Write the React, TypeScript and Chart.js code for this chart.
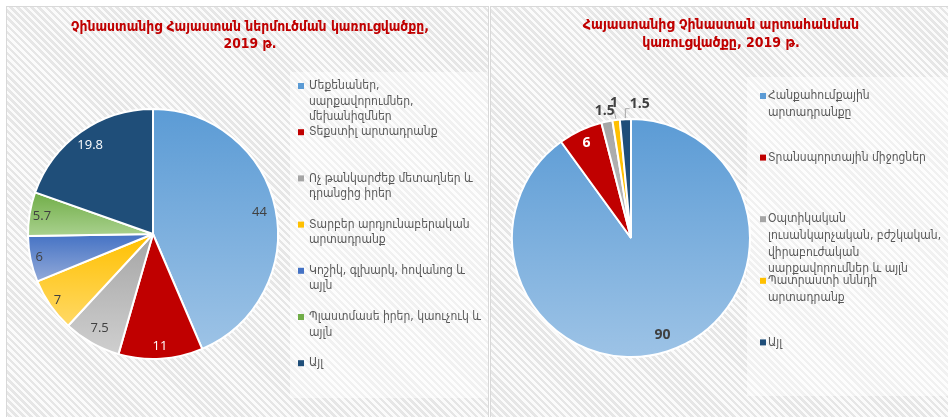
import React, { useEffect, useRef } from "react";
import { Chart, registerables } from "chart.js";
Chart.register(...registerables);

// ---------- data ----------
const importTitle = ["Չինաստանից Հայաստան ներմուծման կառուցվածքը,", "2019 թ."];
const importCategories = [
  ["Մեքենաներ,", "սարքավորումներ,", "մեխանիզմներ"],
  ["Տեքստիլ արտադրանք"],
  ["Ոչ թանկարժեք մետաղներ և", "դրանցից իրեր"],
  ["Տարբեր արդյունաբերական", "արտադրանք"],
  ["Կոշիկ, գլխարկ, հովանոց և", "այլն"],
  ["Պլաստմասե իրեր, կաուչուկ և", "այլն"],
  ["Այլ"],
];
const importValues = [44, 11, 7.5, 7, 6, 5.7, 19.8];

const exportTitle = ["Հայաստանից Չինաստան արտահանման", "կառուցվածքը, 2019 թ."];
const exportCategories = [
  ["Հանքահումքային", "արտադրանքը"],
  ["Տրանսպորտային միջոցներ"],
  ["Օպտիկական", "լուսանկարչական, բժշկական,", "վիրաբուժական", "սարքավորումներ և այլն"],
  ["Պատրաստի սննդի", "արտադրանք"],
  ["Այլ"],
];
const exportValues = [90, 6, 1.5, 1, 1.5];

// ---------- styles ----------
const importColors = [
  ["#5B9BD5", "#9DC3E6"],
  ["#C00000", "#C00000"],
  ["#A5A5A5", "#CFCFCF"],
  ["#FFC000", "#FFD966"],
  ["#4472C4", "#93AAD9"],
  ["#70AD47", "#A9D18E"],
  ["#1F4E79", "#1F4E79"],
];
const exportColors = [
  ["#5B9BD5", "#9DC3E6"],
  ["#C00000", "#C00000"],
  ["#A5A5A5", "#BFBFBF"],
  ["#FFC000", "#FFC000"],
  ["#1F4E79", "#1F4E79"],
];
const importLabelStyle = [
  { f: 0.87, color: "#404040" },
  { f: 0.9, color: "#FFFFFF" },
  { f: 0.87, color: "#404040" },
  { f: 0.93, color: "#404040" },
  { f: 0.93, color: "#404040" },
  { f: 0.9, color: "#404040" },
  { f: 0.87, color: "#FFFFFF" },
];
const exportLabelStyle = [
  { f: 0.86, color: "#404040" },
  { f: 0.88, color: "#FFFFFF" },
  { f: 1.09, color: "#404040" },
  { f: 1.14, color: "#404040", leader: true },
  { f: 1.13, color: "#404040", leader: true, dx: 15 },
];

type PanelCfg = {
  title: string[];
  titleX: number;
  titleY: number[];
  titleFont: number;
  categories: string[][];
  values: number[];
  colors: string[][];
  labelStyle: any[];
  labelFont: string;
  legendBox: number[];
  legendSquareX: number;
  legendTextX: number;
  legendY: number;
  legendStep: number;
  legendLine: number;
  padding: { left: number; right: number; top: number; bottom: number };
};

const ARM_FONT = '"DejaVu Sans Condensed", "DejaVu Sans", sans-serif';

function arcGradient(c: any, colors: string[][]) {
  const i = c.dataIndex;
  if (i === undefined) return "#999";
  const chart = c.chart;
  const area = chart.chartArea;
  const pair = colors[i];
  if (!area) return pair[0];
  const data = c.dataset.data as number[];
  const total = data.reduce((a, b) => a + b, 0);
  let before = 0;
  for (let k = 0; k < i; k++) before += data[k];
  const start = -Math.PI / 2 + (before / total) * Math.PI * 2;
  const end = start + (data[i] / total) * Math.PI * 2;
  const cy = (area.top + area.bottom) / 2;
  const r = Math.min(area.right - area.left, area.bottom - area.top) / 2;
  let ymin = cy, ymax = cy;
  const n = 40;
  for (let s = 0; s <= n; s++) {
    const a = start + ((end - start) * s) / n;
    const y = cy + r * Math.sin(a);
    ymin = Math.min(ymin, y);
    ymax = Math.max(ymax, y);
  }
  if (ymax - ymin < 1) return pair[0];
  const g = chart.ctx.createLinearGradient(0, ymin, 0, ymax);
  g.addColorStop(0, pair[0]);
  g.addColorStop(1, pair[1]);
  return g;
}

function makePlugins(cfg: PanelCfg) {
  return [
    {
      id: "legendShade",
      beforeDraw(chart: any) {
        const ctx = chart.ctx as CanvasRenderingContext2D;
        const [x, y, w, h] = cfg.legendBox;
        ctx.save();
        ctx.fillStyle = "rgba(255,255,255,0.45)";
        ctx.fillRect(x, y, w, h);
        ctx.restore();
      },
    },
    {
      id: "panelText",
      afterDraw(chart: any) {
        const ctx = chart.ctx as CanvasRenderingContext2D;
        ctx.save();
        // title
        ctx.fillStyle = "#C00000";
        ctx.font = "bold " + cfg.titleFont + "px " + ARM_FONT;
        ctx.textAlign = "center";
        ctx.textBaseline = "middle";
        cfg.title.forEach((t, k) => ctx.fillText(t, cfg.titleX, cfg.titleY[k]));
        // legend
        ctx.textAlign = "left";
        ctx.font = "12px " + ARM_FONT;
        cfg.categories.forEach((lines, i) => {
          const y0 = cfg.legendY + i * cfg.legendStep;
          ctx.fillStyle = cfg.colors[i][0];
          ctx.fillRect(cfg.legendSquareX, y0 - 3, 6, 6);
          ctx.fillStyle = "#595959";
          lines.forEach((ln, j) => ctx.fillText(ln, cfg.legendTextX, y0 + j * cfg.legendLine));
        });
        ctx.restore();
      },
    },
    {
      id: "sliceLabels",
      afterDatasetsDraw(chart: any) {
        const ctx = chart.ctx as CanvasRenderingContext2D;
        const meta = chart.getDatasetMeta(0);
        const data = chart.data.datasets[0].data as number[];
        ctx.save();
        ctx.font = cfg.labelFont;
        ctx.textAlign = "center";
        ctx.textBaseline = "middle";
        meta.data.forEach((arc: any, i: number) => {
          const p = arc.getProps(["x", "y", "startAngle", "endAngle", "outerRadius"], true);
          const st = cfg.labelStyle[i];
          const mid = (p.startAngle + p.endAngle) / 2;
          const r = p.outerRadius * st.f;
          const x = p.x + Math.cos(mid) * r + (st.dx || 0);
          const y = p.y + Math.sin(mid) * r;
          if (st.leader) {
            ctx.strokeStyle = "#A6A6A6";
            ctx.lineWidth = 1;
            const ex = p.x + Math.cos(mid) * (p.outerRadius + 1);
            const ey = p.y + Math.sin(mid) * (p.outerRadius + 1);
            ctx.beginPath();
            ctx.moveTo(ex, ey);
            if (st.dx) {
              ctx.lineTo(ex, y + 5);
              ctx.lineTo(x - 10, y + 5);
            } else {
              ctx.lineTo(x, y + 7);
            }
            ctx.stroke();
          }
          ctx.fillStyle = st.color;
          ctx.fillText(String(data[i]), x, y);
        });
        ctx.restore();
      },
    },
  ];
}

function Panel({ cfg, left, width }: { cfg: PanelCfg; left: number; width: number }) {
  const ref = useRef<HTMLCanvasElement | null>(null);
  useEffect(() => {
    if (!ref.current) return;
    const chart = new Chart(ref.current, {
      type: "pie",
      data: {
        labels: cfg.categories,
        datasets: [
          {
            data: cfg.values,
            backgroundColor: (c: any) => arcGradient(c, cfg.colors),
            borderColor: "#FFFFFF",
            borderWidth: 2,
          },
        ],
      },
      options: {
        responsive: false,
        animation: false,
        layout: { padding: cfg.padding },
        plugins: { legend: { display: false }, tooltip: { enabled: false }, title: { display: false } },
      },
      plugins: makePlugins(cfg),
    } as any);
    return () => chart.destroy();
  }, []);
  return (
    <div
      style={{
        position: "absolute",
        left: left - 1,
        top: 6,
        width: width,
        height: 412,
        border: "1px solid #D9D9D9",
        background:
          "repeating-linear-gradient(45deg, #FBFBFB 0px, #FBFBFB 2.5px, #E6E6E6 2.5px, #E6E6E6 5px)",
        overflow: "hidden",
      }}
    >
      <canvas ref={ref} width={width} height={410} style={{ display: "block" }} />
    </div>
  );
}

const importCfg: PanelCfg = {
  title: importTitle,
  titleX: 243,
  titleY: [20, 37],
  titleFont: 13.8,
  categories: importCategories,
  values: importValues,
  colors: importColors,
  labelStyle: importLabelStyle,
  labelFont: '13px "Open Sans", sans-serif',
  legendBox: [283, 65, 198, 326],
  legendSquareX: 291,
  legendTextX: 302,
  legendY: 79,
  legendStep: 46.2,
  legendLine: 15.5,
  padding: { left: 20, right: 209, top: 101, bottom: 57 },
};

const exportCfg: PanelCfg = {
  title: exportTitle,
  titleX: 230,
  titleY: [18, 36],
  titleFont: 14,
  categories: exportCategories,
  values: exportValues,
  colors: exportColors,
  labelStyle: exportLabelStyle,
  labelFont: 'bold 14px "Open Sans", sans-serif',
  legendBox: [256, 70, 201, 319],
  legendSquareX: 269,
  legendTextX: 277,
  legendY: 89,
  legendStep: 61.6,
  legendLine: 16.7,
  padding: { left: 20, right: 197, top: 111, bottom: 59 },
};

export default function App() {
  return (
    <div
      style={{
        position: "fixed",
        left: 0,
        top: 0,
        width: 948,
        height: 417,
        background: "#FFFFFF",
        overflow: "hidden",
      }}
    >
      <Panel cfg={importCfg} left={7} width={481} />
      <Panel cfg={exportCfg} left={491} width={457} />
    </div>
  );
}
